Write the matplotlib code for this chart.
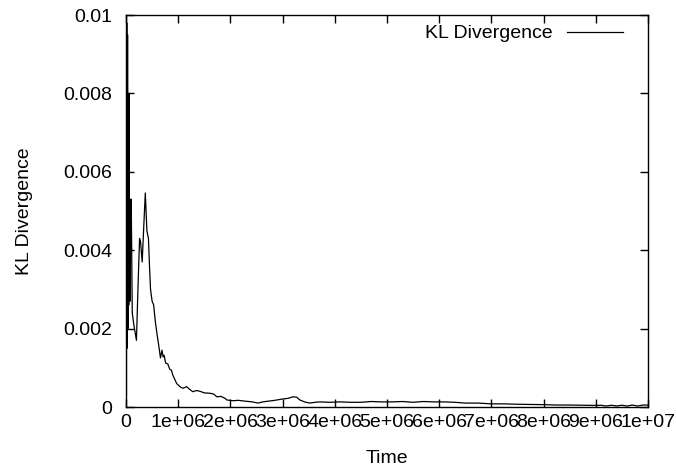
import matplotlib
matplotlib.use("Agg")
import matplotlib.pyplot as plt
from matplotlib.ticker import FixedLocator

plt.rcParams['font.family'] = ['Liberation Sans', 'DejaVu Sans']

# time in units of 1e6, KL divergence in units of 1e-3
time_m = [0.0, 0.008, 0.015, 0.022, 0.03, 0.037, 0.045, 0.052, 0.06, 0.07,
          0.08, 0.09, 0.1, 0.12, 0.15, 0.2, 0.23, 0.26, 0.28, 0.31,
          0.34, 0.37, 0.40, 0.43, 0.45, 0.47, 0.50, 0.53, 0.56, 0.59,
          0.62, 0.64, 0.66, 0.69, 0.71, 0.73, 0.76, 0.80, 0.84, 0.87,
          0.90, 0.94, 0.97, 1.01, 1.05, 1.10, 1.16, 1.22, 1.28, 1.35,
          1.42, 1.50, 1.61, 1.68, 1.74, 1.82, 1.90, 1.93, 2.05, 2.15,
          2.31, 2.42, 2.53, 2.62, 2.70, 2.85, 2.98, 3.10, 3.20, 3.27,
          3.33, 3.42, 3.52, 3.62, 3.72, 3.90, 4.10, 4.30, 4.50, 4.70,
          4.90, 5.10, 5.30, 5.50, 5.70, 5.90, 6.10, 6.30, 6.50, 6.75,
          7.00, 7.25, 7.50, 7.75, 8.00, 8.25, 8.50, 8.75, 9.00, 9.10,
          9.20, 9.30, 9.40, 9.50, 9.60, 9.70, 9.80, 9.90, 10.0]
kl_m = [10.0, 0.3, 9.8, 1.5, 9.5, 2.0, 8.0, 2.6, 8.0, 2.8,
        2.7, 5.3, 5.3, 2.4, 2.1, 1.7, 3.06, 4.3, 4.2, 3.7,
        4.6, 5.46, 4.5, 4.3, 3.6, 3.0, 2.7, 2.6, 2.2, 1.9,
        1.63, 1.45, 1.25, 1.45, 1.28, 1.32, 1.12, 1.10, 0.96, 0.94,
        0.80, 0.69, 0.60, 0.55, 0.50, 0.48, 0.52, 0.45, 0.39, 0.42,
        0.40, 0.36, 0.35, 0.33, 0.26, 0.27, 0.22, 0.18, 0.16, 0.17,
        0.145, 0.13, 0.10, 0.13, 0.145, 0.17, 0.20, 0.22, 0.26, 0.25,
        0.18, 0.13, 0.10, 0.12, 0.13, 0.12, 0.13, 0.12, 0.12, 0.14,
        0.13, 0.13, 0.14, 0.12, 0.14, 0.13, 0.13, 0.12, 0.10, 0.10,
        0.08, 0.08, 0.07, 0.065, 0.06, 0.05, 0.05, 0.045, 0.04, 0.045,
        0.025, 0.045, 0.025, 0.045, 0.025, 0.05, 0.025, 0.05, 0.05]

time = [t * 1e6 for t in time_m]
kl = [k * 1e-3 for k in kl_m]

xticks = [i * 1e6 for i in range(11)]
xlabels = ['0', '1e+06', '2e+06', '3e+06', '4e+06', '5e+06', '6e+06',
           '7e+06', '8e+06', '9e+06', '1e+07']
yticks = [0, 0.002, 0.004, 0.006, 0.008, 0.01]
ylabels = ['0', '0.002', '0.004', '0.006', '0.008', '0.01']

FS = 14
fig = plt.figure(figsize=(6.76, 4.70), dpi=100)
ax = fig.add_axes([126/676, 1 - 407/470, 522/676, 392/470])
ax.plot(time, kl, color='black', linewidth=0.9, label='KL Divergence')
ax.set_xlim(0, 1e7)
ax.set_ylim(0, 0.01)
ax.xaxis.set_major_locator(FixedLocator(xticks))
ax.set_xticklabels(xlabels)
ax.yaxis.set_major_locator(FixedLocator(yticks))
ax.set_yticklabels(ylabels)
ax.tick_params(direction='in', length=6, width=1, top=True, right=True,
               labelsize=FS, colors='black')
ax.tick_params(axis='x', pad=5)
ax.tick_params(axis='y', pad=10)
for s in ax.spines.values():
    s.set_linewidth(1)
ax.set_xlabel('Time', fontsize=FS, labelpad=14)
ax.set_ylabel('KL Divergence', fontsize=FS, labelpad=22)
leg = ax.legend(loc='upper right', frameon=False, fontsize=FS,
                markerfirst=False, handlelength=2.9, handletextpad=0.75,
                borderaxespad=0, bbox_to_anchor=(1 - 17/522, 1 - 2/392))
fig.savefig('out.png', dpi=100)
